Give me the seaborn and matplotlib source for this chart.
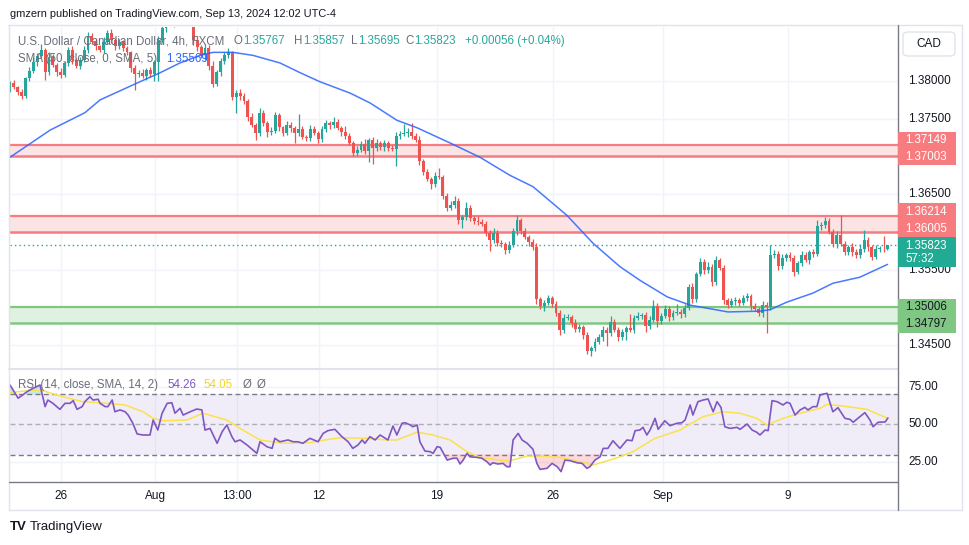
import matplotlib
matplotlib.use("Agg")

import numpy as np
import pandas as pd
import matplotlib.pyplot as plt
import matplotlib.transforms as mtransforms
from matplotlib.lines import Line2D
from matplotlib.patches import Rectangle, FancyBboxPatch
import seaborn as sns

# ---------------------------------------------------------------------------
# Data (USD/CAD, 4h candles, FXCM)
# ---------------------------------------------------------------------------

first_open = 1.3790

closes = [
    1.3797, 1.3792, 1.3786, 1.3780, 1.3804, 1.3813, 1.3825, 1.3833, 1.3841, 1.3812,  # 0
    1.3832, 1.3821, 1.3812, 1.3808, 1.3824, 1.3841, 1.3828, 1.3820, 1.3828, 1.3841,  # 10
    1.3860, 1.3852, 1.3846, 1.3841, 1.3852, 1.3864, 1.3854, 1.3846, 1.3852, 1.3844,  # 20
    1.3838, 1.3817, 1.3809, 1.3811, 1.3807, 1.3815, 1.3809, 1.3825, 1.3854, 1.3870,  # 30
    1.3885, 1.3878, 1.3890, 1.3900, 1.3885, 1.3895, 1.3880, 1.3854, 1.3845, 1.3834,  # 40
    1.3844, 1.3820, 1.3796, 1.3812, 1.3826, 1.3834, 1.3838, 1.3779, 1.3784, 1.3780,  # 50
    1.3773, 1.3752, 1.3742, 1.3731, 1.3758, 1.3744, 1.3732, 1.3734, 1.3755, 1.3739,  # 60
    1.3731, 1.3742, 1.3738, 1.3731, 1.3736, 1.3726, 1.3725, 1.3736, 1.3731, 1.3723,  # 70
    1.3736, 1.3744, 1.3742, 1.3746, 1.3738, 1.3732, 1.3727, 1.3718, 1.3705, 1.3709,  # 80
    1.3717, 1.3707, 1.3722, 1.3711, 1.3718, 1.3712, 1.3718, 1.3711, 1.3710, 1.3727,  # 90
    1.3730, 1.3731, 1.3733, 1.3727, 1.3722, 1.3694, 1.3679, 1.3670, 1.3663, 1.3674,  # 100
    1.3673, 1.3648, 1.3632, 1.3636, 1.3641, 1.3616, 1.3620, 1.3632, 1.3618, 1.3615,  # 110
    1.3613, 1.3611, 1.3599, 1.3589, 1.3599, 1.3585, 1.3584, 1.3576, 1.3583, 1.3601,  # 120
    1.3616, 1.3601, 1.3593, 1.3587, 1.3580, 1.3511, 1.3502, 1.3506, 1.3512, 1.3505,  # 130
    1.3493, 1.3470, 1.3486, 1.3487, 1.3479, 1.3471, 1.3474, 1.3463, 1.3442, 1.3446,  # 140
    1.3454, 1.3461, 1.3470, 1.3466, 1.3481, 1.3470, 1.3461, 1.3467, 1.3473, 1.3470,  # 150
    1.3486, 1.3489, 1.3490, 1.3476, 1.3483, 1.3502, 1.3482, 1.3489, 1.3498, 1.3487,  # 160
    1.3493, 1.3494, 1.3491, 1.3499, 1.3527, 1.3511, 1.3544, 1.3560, 1.3550, 1.3554,  # 170
    1.3534, 1.3563, 1.3552, 1.3510, 1.3503, 1.3508, 1.3510, 1.3506, 1.3512, 1.3515,  # 180
    1.3502, 1.3498, 1.3493, 1.3503, 1.3500, 1.3569, 1.3571, 1.3555, 1.3565, 1.3569,  # 190
    1.3565, 1.3547, 1.3559, 1.3569, 1.3563, 1.3573, 1.3571, 1.3608, 1.3609, 1.3615,  # 200
    1.3600, 1.3584, 1.3596, 1.3584, 1.3573, 1.3580, 1.3573, 1.3569, 1.3578, 1.3589,  # 210
    1.3580, 1.3567, 1.3578, 1.3578, 1.3577, 1.35823,                                 # 220
]

# wick lengths beyond the body, in pips
up_wick_pips = [
    3, 4, 2, 3, 2, 5, 7, 4, 8, 3, 6, 4, 3, 5, 2, 4, 6, 3, 4, 5,
    5, 3, 4, 2, 6, 3, 5, 2, 4, 3, 3, 2, 4, 3, 5, 2, 4, 3, 6, 8,
    10, 6, 12, 46, 8, 10, 5, 4, 6, 3, 5, 4, 6, 3, 5, 4, 6, 2, 4, 5,
    4, 3, 5, 2, 6, 4, 3, 5, 4, 3, 2, 5, 4, 3, 20, 4, 3, 6, 4, 3,
    5, 4, 3, 6, 4, 3, 9, 4, 3, 5, 4, 6, 3, 4, 5, 3, 4, 3, 4, 5,
    4, 12, 5, 12, 4, 5, 3, 4, 3, 6, 11, 3, 4, 5, 6, 4, 3, 8, 4, 3,
    6, 4, 3, 4, 6, 3, 4, 3, 5, 4, 6, 3, 4, 3, 4, 5, 3, 4, 5, 3,
    4, 3, 5, 4, 3, 6, 4, 3, 4, 3, 5, 4, 6, 4, 7, 3, 4, 5, 3, 18,
    4, 5, 3, 4, 5, 8, 4, 3, 5, 4, 3, 10, 4, 5, 4, 6, 3, 5, 4, 6,
    4, 5, 3, 4, 3, 5, 4, 3, 5, 4, 3, 4, 3, 5, 4, 14, 5, 4, 6, 3,
    5, 4, 3, 6, 4, 3, 5, 8, 4, 5, 3, 4, 5, 26, 4, 3, 5, 4, 6, 14,
    4, 3, 5, 4, 16, 0.3,
]
dn_wick_pips = [
    4, 3, 5, 4, 3, 4, 3, 5, 3, 11, 4, 3, 5, 4, 3, 4, 5, 3, 4, 3,
    4, 3, 5, 3, 4, 3, 4, 5, 3, 4, 3, 5, 21, 4, 3, 5, 4, 9, 25, 4,
    5, 4, 6, 3, 7, 5, 4, 6, 5, 4, 6, 5, 4, 3, 5, 4, 3, 4, 22, 5,
    4, 5, 3, 9, 4, 3, 6, 4, 3, 5, 4, 3, 5, 13, 4, 3, 5, 4, 3, 5,
    4, 3, 5, 4, 3, 5, 4, 3, 5, 4, 3, 4, 14, 21, 4, 3, 5, 4, 3, 22,
    4, 3, 5, 4, 3, 5, 4, 3, 6, 4, 3, 5, 4, 3, 4, 5, 11, 4, 3, 5,
    4, 3, 5, 14, 4, 3, 4, 5, 4, 3, 5, 4, 3, 5, 4, 6, 4, 7, 3, 4,
    5, 7, 4, 3, 5, 4, 3, 5, 4, 7, 4, 3, 5, 17, 4, 3, 5, 4, 10, 3,
    4, 3, 5, 8, 4, 3, 8, 4, 3, 5, 4, 3, 5, 4, 3, 5, 4, 3, 6, 4,
    5, 4, 3, 6, 4, 3, 5, 4, 3, 4, 5, 3, 4, 6, 34, 4, 3, 5, 4, 3,
    4, 5, 3, 4, 3, 5, 4, 3, 5, 4, 3, 4, 5, 3, 4, 3, 5, 4, 3, 4,
    5, 4, 3, 4, 3, 0.7,
]

# SMA(50) read at points along the curve (bar index, price)
sma_idx = [0, 10.3, 19.2, 23.1, 33.3, 38.5, 43.6, 48.7, 52.1, 57.2, 62.3, 69.2,
           74.4, 79.5, 87.2, 92.3, 99.2, 104.4, 112.8, 120.5, 128.2, 134.1,
           142.8, 149.5, 156.4, 161.5, 168.5, 174.4, 184.1, 192.3, 194.9,
           199.2, 205.9, 211.0, 217.9, 225]
sma_val = [1.3699, 1.3735, 1.3758, 1.3775, 1.3799, 1.3811, 1.3824, 1.3834,
           1.3838, 1.3838, 1.3834, 1.3824, 1.3811, 1.3799, 1.3784, 1.3771,
           1.3748, 1.3738, 1.3718, 1.3699, 1.3675, 1.3660, 1.3622, 1.3585,
           1.3554, 1.3536, 1.3514, 1.3503, 1.3494, 1.3495, 1.3497, 1.3507,
           1.3519, 1.3532, 1.3540, 1.3557]

# RSI(14) as (bar index, value)
rsi_points = [
    (0, 76.3), (2.1, 67.5), (4.4, 71.9), (5.9, 74.1), (7.7, 76.3), (9.0, 61.9),
    (9.7, 66.3), (11.0, 64.1), (12.8, 60.1), (14.1, 64.1), (15.4, 64.1),
    (16.2, 65.9), (17.2, 60.1), (18.5, 61.9), (19.2, 65.2), (20.5, 68.5),
    (21.3, 66.3), (22.6, 66.8), (23.1, 64.1), (24.4, 61.9), (25.1, 61.9),
    (26.2, 66.3), (26.9, 58.5), (28.2, 59.7), (29.5, 58.5), (30.3, 56.3),
    (31.5, 50.8), (32.6, 43.7), (34.1, 43.0), (35.9, 43.0), (36.7, 53.0),
    (37.9, 46.3), (39.0, 57.5), (40.3, 64.1), (41.5, 64.5), (42.3, 57.5),
    (43.6, 60.8), (44.4, 56.3), (46.2, 58.5), (47.9, 60.3), (49.2, 59.7),
    (50.0, 46.3), (51.3, 47.4), (53.1, 37.5), (54.4, 45.2), (55.6, 49.7),
    (56.9, 41.9), (57.7, 38.5), (59.0, 39.7), (60.8, 36.3), (63.3, 30.8),
    (64.1, 38.5), (65.9, 35.2), (67.2, 34.1), (67.9, 40.8), (69.2, 38.5),
    (71.3, 39.7), (72.6, 38.5), (73.8, 38.5), (75.1, 37.5), (76.9, 40.8),
    (79.0, 38.5), (80.3, 44.1), (81.5, 45.9), (83.3, 46.8), (85.1, 41.9),
    (86.7, 38.5), (87.9, 34.1), (89.2, 36.3), (90.3, 39.7), (91.0, 37.5),
    (92.3, 41.9), (93.6, 39.7), (94.9, 43.0), (96.2, 40.8), (96.9, 39.7),
    (98.2, 49.0), (99.2, 43.0), (100.5, 50.8), (101.3, 51.2), (102.6, 49.7),
    (103.3, 48.5), (104.4, 49.7), (105.1, 38.5), (106.4, 32.3), (107.7, 31.9),
    (108.5, 30.8), (109.5, 35.2), (110.3, 34.8), (112.1, 26.3), (113.6, 27.5),
    (114.6, 27.5), (115.4, 23.7), (116.2, 26.3), (117.2, 30.8), (117.9, 28.5),
    (119.7, 28.1), (121.0, 27.5), (122.3, 25.2), (123.1, 23.0), (123.8, 24.5),
    (125.1, 23.7), (126.4, 24.1), (127.4, 21.9), (128.2, 21.9), (129.0, 39.7),
    (130.3, 44.1), (131.3, 39.7), (132.6, 37.5), (134.1, 33.5), (135.1, 24.1),
    (135.9, 20.1), (137.7, 20.8), (139.0, 24.1), (140.3, 21.9), (141.3, 18.6),
    (142.3, 26.3), (143.6, 25.9), (145.4, 24.5), (146.7, 24.1), (147.9, 20.8),
    (148.7, 21.9), (150.0, 26.3), (151.3, 28.5), (152.1, 34.1), (153.3, 34.1),
    (154.6, 39.2), (156.4, 34.1), (158.2, 39.7), (159.5, 39.2), (160.3, 45.9),
    (161.5, 46.3), (162.3, 48.1), (163.3, 43.0), (164.1, 46.3), (165.4, 54.1),
    (166.2, 46.8), (167.9, 52.5), (169.2, 49.2), (171.0, 50.8), (172.3, 51.2),
    (173.1, 53.0), (174.4, 63.0), (175.1, 56.3), (176.4, 65.2), (177.7, 66.3),
    (179.0, 67.0), (180.3, 58.5), (181.3, 65.2), (182.3, 61.4), (183.3, 48.5),
    (184.6, 47.4), (186.4, 48.1), (187.2, 46.8), (189.0, 50.3), (190.3, 46.3),
    (191.5, 44.8), (192.3, 43.0), (193.6, 46.3), (194.4, 45.9), (195.4, 65.9),
    (196.7, 65.2), (198.2, 63.0), (199.2, 64.8), (200.0, 64.1), (201.3, 56.3),
    (202.6, 59.7), (203.8, 61.4), (204.6, 59.7), (205.9, 61.9), (206.9, 61.9),
    (207.7, 69.7), (209.5, 70.8), (210.3, 64.1), (211.0, 58.5), (212.3, 61.2),
    (214.1, 54.1), (215.4, 53.4), (216.2, 51.5), (217.4, 54.1), (219.2, 57.9),
    (220.5, 53.0), (221.3, 48.5), (222.6, 51.5), (224.4, 51.7), (225.1, 54.3),
]

# RSI-based moving average as (bar index, value)
rsi_ma_points = [
    (0, 71.2), (5.9, 73.0), (8.5, 72.5), (12.8, 69.0), (18.7, 65.2), (23.1, 64.5),
    (29.5, 63.0), (34.1, 58.5), (36.7, 54.1), (39.2, 52.5), (45.4, 53.0),
    (49.5, 57.5), (55.6, 53.0), (59.7, 46.3), (64.1, 39.7), (70.0, 37.5),
    (76.9, 37.9), (79.5, 39.2), (84.6, 41.2), (91.5, 40.8), (96.7, 39.7),
    (99.2, 39.7), (104.4, 44.9), (108.5, 43.0), (112.8, 39.7), (117.2, 31.9),
    (120.5, 28.1), (125.6, 26.3), (128.2, 25.9), (132.6, 29.0), (135.9, 29.0),
    (141.0, 28.1), (146.2, 25.2), (149.5, 23.0), (153.8, 26.3), (156.4, 28.5),
    (159.7, 31.9), (165.4, 40.8), (171.8, 46.3), (177.7, 55.2), (182.8, 58.5),
    (187.2, 57.5), (191.5, 54.1), (194.1, 49.7), (198.2, 54.1), (202.6, 57.5),
    (207.7, 60.8), (209.5, 63.4), (213.6, 62.3), (219.7, 60.1), (225.1, 54.1),
]

resistance_upper = (1.37003, 1.37149)
resistance_lower = (1.36005, 1.36214)
support_zone = (1.34797, 1.35006)
last_price = 1.35823
last_sma = 1.35569
last_rsi, last_rsi_ma = 54.26, 54.05
ohlc_last = {"O": "1.35767", "H": "1.35857", "L": "1.35695", "C": "1.35823"}

price_ticks = [1.345, 1.350, 1.355, 1.360, 1.365, 1.370, 1.375, 1.380]
# labels that are not hidden behind the coloured price boxes
price_tick_labels = [1.345, 1.355, 1.365, 1.375, 1.380]
rsi_ticks = [25, 50, 75]
time_tick_idx = [13.1, 37.2, 58.2, 79.2, 109.5, 139.2, 167.4, 199.5]
time_tick_labels = ["26", "Aug", "13:00", "12", "19", "26", "Sep", "9"]

# ---------------------------------------------------------------------------
# Style
# ---------------------------------------------------------------------------
UP, DOWN = "#26a69a", "#ef5350"
BLUE = "#2962ff"
PURPLE, YELLOW = "#7e57c2", "#fbe14b"
TEXT, LEGEND = "#131722", "#6a6d78"
GRID, BORDER, AXIS = "#f0f3fa", "#e0e3eb", "#787b86"
RED_EDGE, RED_FILL = "#f77c80", "#fce4e5"
GREEN_EDGE, GREEN_FILL = "#81c784", "#e0f1e1"

sns.set_style("white")
plt.rcParams["font.family"] = ["Liberation Sans", "DejaVu Sans"]

W, H = 970, 545
fig = plt.figure(figsize=(W / 100, H / 100), dpi=100)
fig.patch.set_facecolor("white")


def fbox(x0, y0, x1, y1):
    return [x0 / W, 1 - y1 / H, (x1 - x0) / W, (y1 - y0) / H]


def fx(px):
    return px / W


def fy(py):
    return 1 - py / H


def fline(x0, y0, x1, y1, color, lw=1.0, z=4):
    fig.add_artist(Line2D([fx(x0), fx(x1)], [fy(y0), fy(y1)], transform=fig.transFigure,
                          color=color, lw=lw, zorder=z))


ax = fig.add_axes(fbox(10, 27, 898, 368))
ax_rsi = fig.add_axes(fbox(10, 370, 898, 482))
x_right = (898 - 10) / 3.9

# ---------------------------------------------------------------------------
# Price pane
# ---------------------------------------------------------------------------
df = pd.DataFrame({"close": closes})
df["open"] = df["close"].shift(1).fillna(first_open)
body_top = df[["open", "close"]].max(axis=1)
body_bot = df[["open", "close"]].min(axis=1)
df["high"] = body_top + np.array(up_wick_pips) * 1e-4
df["low"] = body_bot - np.array(dn_wick_pips) * 1e-4
df["idx"] = np.arange(len(df))
colors = np.where(df["close"] >= df["open"], UP, DOWN)

for v in time_tick_idx:
    ax.axvline(v, color=GRID, lw=1, zorder=0)
    ax_rsi.axvline(v, color=GRID, lw=1, zorder=0)
for p in price_ticks:
    ax.axhline(p, color=GRID, lw=1, zorder=0)

for (lo, hi), fill, edge in [(resistance_upper, RED_FILL, RED_EDGE),
                             (resistance_lower, RED_FILL, RED_EDGE),
                             (support_zone, GREEN_FILL, GREEN_EDGE)]:
    ax.axhspan(lo, hi, color=fill, lw=0, zorder=1)
    ax.axhline(hi, color=edge, lw=1.6, zorder=2)
    ax.axhline(lo, color=edge, lw=1.8, zorder=2)

ax.axhline(last_price, color=UP, lw=1, ls=(0, (1, 2.2)), zorder=2)

ax.vlines(df["idx"], df["low"], df["high"], colors=colors, lw=0.9, zorder=3)
ax.bar(df["idx"], np.maximum(body_top - body_bot, 0.00007), bottom=body_bot,
       width=0.74, color=colors, lw=0, zorder=4)

sns.lineplot(x=sma_idx, y=sma_val, ax=ax, color=BLUE, lw=1.1, alpha=0.85, zorder=5)

ax.set_xlim(0, x_right)
ax.set_ylim(1.34197, 1.38716)

# ---------------------------------------------------------------------------
# RSI pane
# ---------------------------------------------------------------------------
rsi_idx = np.array([p[0] for p in rsi_points])
rsi_val = np.array([p[1] for p in rsi_points])
ma_idx = [p[0] for p in rsi_ma_points]
ma_val = [p[1] for p in rsi_ma_points]

ax_rsi.axhspan(30, 70, color=PURPLE, alpha=0.1, lw=0, zorder=0)
for lvl in (25, 75):
    ax_rsi.axhline(lvl, color=GRID, lw=1, zorder=0)
ax_rsi.axhline(70, color=AXIS, lw=1, ls=(0, (3.6, 2.4)), zorder=1)
ax_rsi.axhline(30, color=AXIS, lw=1, ls=(0, (3.6, 2.4)), zorder=1)
ax_rsi.axhline(50, color=AXIS, lw=1, alpha=0.55, ls=(0, (3.6, 2.4)), zorder=1)

ax_rsi.fill_between(rsi_idx, rsi_val, 30, where=rsi_val < 30, interpolate=True,
                    color="#f7525f", alpha=0.22, lw=0, zorder=1)
ax_rsi.fill_between(rsi_idx, rsi_val, 70, where=rsi_val > 70, interpolate=True,
                    color=UP, alpha=0.25, lw=0, zorder=1)

sns.lineplot(x=ma_idx, y=ma_val, ax=ax_rsi, color=YELLOW, lw=1.1, zorder=3)
sns.lineplot(x=rsi_idx, y=rsi_val, ax=ax_rsi, color=PURPLE, lw=1.2, zorder=4)

ax_rsi.set_xlim(0, x_right)
ax_rsi.set_ylim(11.7, 86.3)

for a in (ax, ax_rsi):
    a.set_xlabel("")
    a.set_ylabel("")
    a.set_yticks([])
    for s in a.spines.values():
        s.set_visible(False)
ax.set_xticks([])
ax_rsi.set_xticks(time_tick_idx)
ax_rsi.set_xticklabels(time_tick_labels, fontsize=8.5, color=TEXT)
ax_rsi.tick_params(axis="x", length=0, pad=6)

# right-hand price scales
trans = mtransforms.blended_transform_factory(ax.transAxes, ax.transData)
for p in price_tick_labels:
    ax.text(1 + 10 / 888, p, f"{p:.5f}", transform=trans, ha="left", va="center",
            fontsize=8.5, color=TEXT, clip_on=False)
trans_r = mtransforms.blended_transform_factory(ax_rsi.transAxes, ax_rsi.transData)
for r in rsi_ticks:
    ax_rsi.text(1 + 10 / 888, r, f"{r:.2f}", transform=trans_r, ha="left", va="center",
                fontsize=8.5, color=TEXT, clip_on=False)

# ---------------------------------------------------------------------------
# Frame, labels and legends
# ---------------------------------------------------------------------------
fline(8, 25, 962, 25, BORDER)
fline(9, 25, 9, 510, BORDER)
fline(962, 25, 962, 510, BORDER)
fline(9, 510, 962, 510, BORDER)
fline(9, 369, 898, 369, BORDER, lw=1.5)
fline(9, 482, 898, 482, AXIS)
fline(898, 25, 898, 510, AXIS)

fig.add_artist(FancyBboxPatch((fx(903), fy(56)), fx(955) - fx(903), (56 - 32) / H,
                              boxstyle="round,pad=0,rounding_size=0.006",
                              transform=fig.transFigure, fc="white", ec=BORDER, lw=1, zorder=5))
fig.text(fx(929), fy(44), "CAD", ha="center", va="center", fontsize=8.5, color=TEXT, zorder=6)


def price_box(y0, y1, color, lines, txt_color="white"):
    fig.add_artist(Rectangle((fx(898), fy(y1)), fx(956) - fx(898), (y1 - y0) / H,
                             transform=fig.transFigure, fc=color, ec="none", zorder=5))
    for yy, s in lines:
        fig.text(fx(905), fy(yy), s, ha="left", va="center", fontsize=8.3,
                 color=txt_color, zorder=6)


price_box(132, 165, RED_EDGE, [(140, f"{resistance_upper[1]:.5f}"),
                               (157, f"{resistance_upper[0]:.5f}")])
price_box(203, 237, RED_EDGE, [(212, f"{resistance_lower[1]:.5f}"),
                               (229, f"{resistance_lower[0]:.5f}")])
price_box(237, 267, "#22ab94", [(246, f"{last_price:.5f}"), (259, "57:32")])
price_box(299, 333, GREEN_EDGE, [(307, f"{support_zone[1]:.5f}"),
                                 (324, f"{support_zone[0]:.5f}")], txt_color=TEXT)

fig.text(fx(10), fy(14), "gmzern published on TradingView.com, Sep 13, 2024 12:02 UTC-4",
         ha="left", va="center", fontsize=7.9, color=TEXT)

leg = dict(ha="left", va="center", fontsize=8.3, zorder=6)
fig.text(fx(18), fy(41), "U.S. Dollar / Canadian Dollar, 4h, FXCM", color=LEGEND, **leg)
# value x-position and the width given to its leading letter
for (k, v), (x0, gap) in zip(ohlc_last.items(), [(243, 9.5), (303, 9), (358, 7), (414, 9)]):
    fig.text(fx(x0 - gap), fy(41), k, color=LEGEND, **leg)
    fig.text(fx(x0), fy(41), v, color=UP, **leg)
fig.text(fx(465), fy(41), "+0.00056 (+0.04%)", color=UP, **leg)
fig.text(fx(18), fy(59), "SMA (50, close, 0, SMA, 5)", color=LEGEND, **leg)
fig.text(fx(166), fy(59), f"{last_sma:.5f}", color=BLUE, **leg)

fig.text(fx(18), fy(385), "RSI (14, close, SMA, 14, 2)", color=LEGEND, **leg)
fig.text(fx(167), fy(385), f"{last_rsi:.2f}", color=PURPLE, **leg)
fig.text(fx(203), fy(385), f"{last_rsi_ma:.2f}", color="#f2d626", **leg)
fig.text(fx(243), fy(385), "Ø", color=LEGEND, **leg)
fig.text(fx(257), fy(385), "Ø", color=LEGEND, **leg)

fig.text(fx(10), fy(527), "TV", ha="left", va="center", fontsize=9.5,
         fontweight="heavy", color=TEXT)
fig.text(fx(30), fy(527), "TradingView", ha="left", va="center", fontsize=9.5, color=TEXT)

fig.savefig("out.png", dpi=100, facecolor="white")
